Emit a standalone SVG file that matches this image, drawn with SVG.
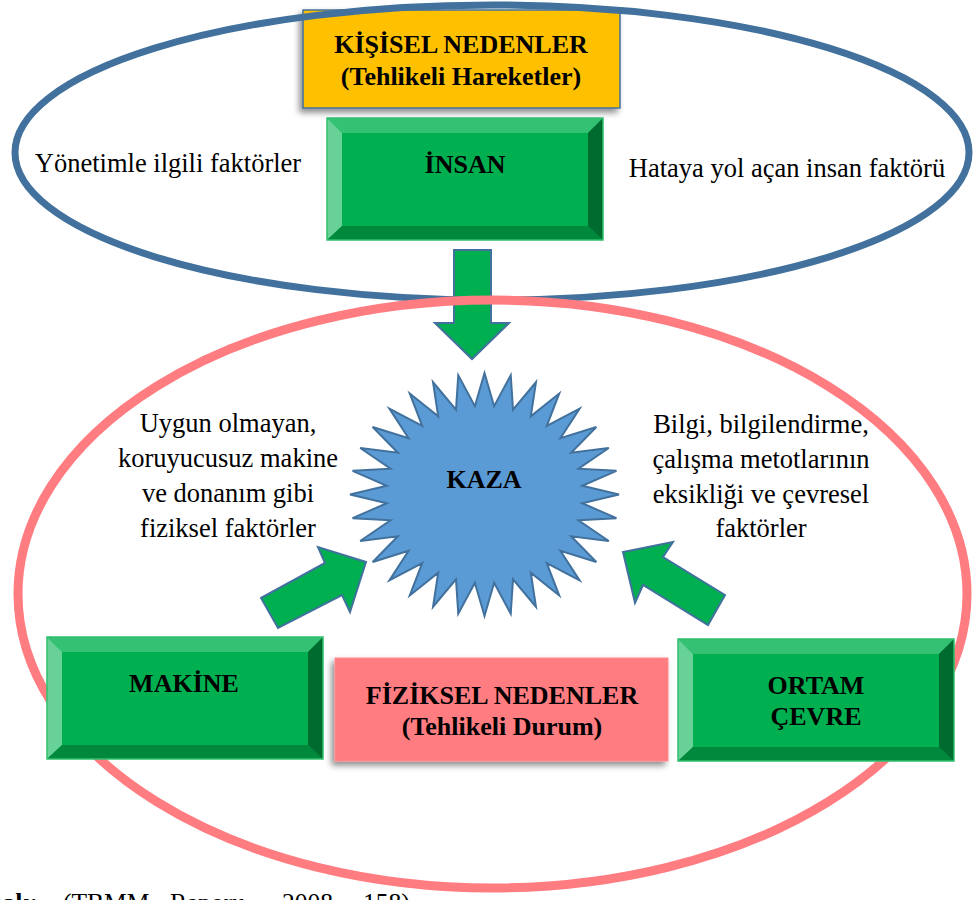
<svg xmlns="http://www.w3.org/2000/svg" xmlns:xlink="http://www.w3.org/1999/xlink" width="974" height="900" viewBox="0 0 974 900">
  <style>
    text { font-family: 'Liberation Serif', 'Times New Roman', serif; }
    .t { font-size: 26.5px; fill: #000; text-anchor: middle; }
    .b { font-weight: bold; font-size: 26px; }
    .arrow { fill: #00B050; stroke: #41719C; stroke-width: 2; stroke-linejoin: miter; }
    .ring { fill: none; }
  </style>
  <defs>
    <filter id="shadow" x="-10%" y="-15%" width="125%" height="140%">
      <feDropShadow dx="-3" dy="4" stdDeviation="3" flood-color="#000" flood-opacity="0.45"/>
    </filter>
    <!-- bevelled green button, 276 x 122 -->
    <g id="bevel-box">
      <rect x="0" y="0" width="276" height="122" fill="#00B050"/>
      <polygon points="0,0 276,0 261,15 15,15" fill="#35C174"/>
      <polygon points="0,0 15,15 15,108 0,122" fill="#68D198"/>
      <polygon points="0,122 15,108 261,108 276,122" fill="#00883D"/>
      <polygon points="276,0 276,122 261,108 261,15" fill="#006B2F"/>
      <rect x="15" y="15" width="246" height="93" fill="#00B050"/>
      <rect x="0" y="0" width="276" height="122" fill="none" stroke="#2FC06E" stroke-width="1.5"/>
    </g>
  </defs>

  <rect x="0" y="0" width="974" height="900" fill="#fff"/>

  <!-- arrow from İNSAN down to KAZA (sits under the rings) -->
  <g id="connectors-top">
    <polygon class="arrow" points="454,250 491,250 491,323 509,323 472,359 435,323 454,323"/>
  </g>

  <!-- personal causes header -->
  <g id="kisisel-nedenler">
    <rect x="303" y="10" width="317" height="98" fill="#FFC000" stroke="#41719C" stroke-width="1.5" filter="url(#shadow)"/>
    <text class="t b" x="461" y="53">KİŞİSEL NEDENLER</text>
    <text class="t b" x="461" y="85">(Tehlikeli Hareketler)</text>
  </g>

  <!-- rings -->
  <g id="rings">
    <ellipse class="ring" cx="492" cy="152.5" rx="477" ry="147.5" stroke="#41719C" stroke-width="7"/>
    <ellipse class="ring" cx="492.5" cy="594" rx="474.5" ry="294" stroke="#FF7C80" stroke-width="9"/>
  </g>

  <g id="insan">
    <use xlink:href="#bevel-box" x="327" y="118"/>
    <text class="t b" x="465" y="173">İNSAN</text>
  </g>

  <g id="yonetim-note">
    <text class="t" x="168" y="172">Yönetimle ilgili faktörler</text>
  </g>
  <g id="insan-note">
    <text class="t" x="787" y="177">Hataya yol açan insan faktörü</text>
  </g>

  <!-- 32-point star -->
  <g id="kaza">
    <polygon transform="translate(484.5,494.5) scale(1.345,1.215)" fill="#5B9BD5" stroke="#41719C" stroke-width="2" vector-effect="non-scaling-stroke" stroke-linejoin="miter"
      points="0,-100 7.16,-72.65 19.51,-98.08 21.19,-69.86 38.27,-92.39 34.41,-64.38 55.56,-83.15 46.31,-56.43 70.71,-70.71 56.43,-46.31 83.15,-55.56 64.38,-34.41 92.39,-38.27 69.86,-21.19 98.08,-19.51 72.65,-7.16 100,0 72.65,7.16 98.08,19.51 69.86,21.19 92.39,38.27 64.38,34.41 83.15,55.56 56.43,46.31 70.71,70.71 46.31,56.43 55.56,83.15 34.41,64.38 38.27,92.39 21.19,69.86 19.51,98.08 7.16,72.65 0,100 -7.16,72.65 -19.51,98.08 -21.19,69.86 -38.27,92.39 -34.41,64.38 -55.56,83.15 -46.31,56.43 -70.71,70.71 -56.43,46.31 -83.15,55.56 -64.38,34.41 -92.39,38.27 -69.86,21.19 -98.08,19.51 -72.65,7.16 -100,0 -72.65,-7.16 -98.08,-19.51 -69.86,-21.19 -92.39,-38.27 -64.38,-34.41 -83.15,-55.56 -56.43,-46.31 -70.71,-70.71 -46.31,-56.43 -55.56,-83.15 -34.41,-64.38 -38.27,-92.39 -21.19,-69.86 -19.51,-98.08 -7.16,-72.65"/>
    <text class="t b" x="484" y="488">KAZA</text>
  </g>

  <g id="makine-note">
    <text class="t" x="228" y="432">Uygun olmayan,</text>
    <text class="t" x="228" y="467">koruyucusuz makine</text>
    <text class="t" x="228" y="502">ve donanım gibi</text>
    <text class="t" x="228" y="537">fiziksel faktörler</text>
  </g>
  <g id="ortam-note">
    <text class="t" x="761" y="433">Bilgi, bilgilendirme,</text>
    <text class="t" x="761" y="468">çalışma metotlarının</text>
    <text class="t" x="761" y="503">eksikliği ve çevresel</text>
    <text class="t" x="761" y="537">faktörler</text>
  </g>

  <!-- side arrows into KAZA -->
  <g id="connectors">
    <polygon class="arrow" points="261,598 325,563 318,547 366,562 350,612 342,595 278,628"/>
    <polygon class="arrow" points="725,595 663,557 673,542 623,552 635,603 643,585 708,625"/>
  </g>

  <g id="makine">
    <use xlink:href="#bevel-box" x="47" y="637"/>
    <text class="t b" x="184" y="692">MAKİNE</text>
  </g>

  <g id="fiziksel-nedenler">
    <rect x="335" y="658" width="333" height="103" fill="#FF7C80" stroke="#FF8A8E" stroke-width="1" filter="url(#shadow)"/>
    <text class="t b" x="502" y="704">FİZİKSEL NEDENLER</text>
    <text class="t b" x="502" y="735">(Tehlikeli Durum)</text>
  </g>

  <g id="ortam">
    <use xlink:href="#bevel-box" x="678" y="639"/>
    <text class="t b" x="816" y="694">ORTAM</text>
    <text class="t b" x="816" y="725">ÇEVRE</text>
  </g>

  <!-- source line, cut by the lower edge -->
  <g id="source">
    <text class="t" style="text-anchor:start;font-size:25.5px" y="911"><tspan x="-57" font-weight="bold">Kaynak:</tspan><tspan x="63">(TBMM</tspan><tspan x="170">Raporu,</tspan><tspan x="282">2008,</tspan><tspan x="363">158)</tspan></text>
  </g>
</svg>
